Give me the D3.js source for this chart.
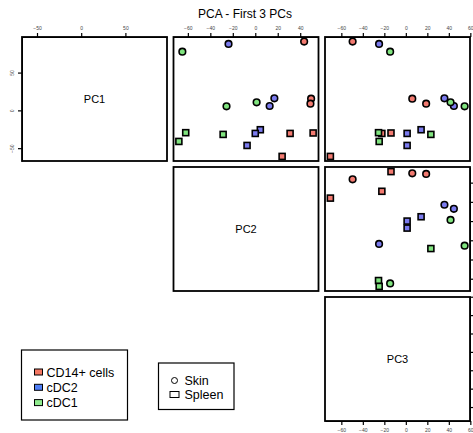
<!DOCTYPE html>
<html>
<head>
<meta charset="utf-8">
<script src="https://cdn.jsdelivr.net/npm/d3@7"></script>
<style>
  body { margin: 0; background: #fff; }
  text { font-family: "Liberation Sans", Arial, sans-serif; }
  .tick text { fill: #444; font-size: 5px; }
</style>
</head>
<body>
<div id="chart"></div>
<script>
// data (18 samples)
const cellType = ['CD14+ cells', 'CD14+ cells', 'CD14+ cells', 'CD14+ cells', 'CD14+ cells', 'CD14+ cells',
  'cDC2', 'cDC2', 'cDC2', 'cDC2', 'cDC2', 'cDC2',
  'cDC1', 'cDC1', 'cDC1', 'cDC1', 'cDC1', 'cDC1'];
const tissue = ['Skin', 'Skin', 'Skin', 'Spleen', 'Spleen', 'Spleen',
  'Skin', 'Skin', 'Skin', 'Spleen', 'Spleen', 'Spleen',
  'Skin', 'Skin', 'Skin', 'Spleen', 'Spleen', 'Spleen'];
const pc1 = [91.0, 15.5, 8.9, -30.5, -29.9, -60.9, 87.9, 15.9, 5.8, -25.6, -30.5, -46.4, 77.7, 10.6, 5.3, -29.5, -41.1, -31.8];
const pc2 = [43.5, 49.7, 49.1, 31.0, 51.5, 23.9, -23.8, 17.0, 12.8, 4.5, 0.0, -7.3, -64.9, 1.2, -25.6, -61.9, -68.0, -28.6];
const pc3 = [-49.5, 6.0, 18.9, -22.3, -13.8, -70.2, -24.9, 35.9, 44.7, 14.2, 1.2, 1.2, -14.6, 41.6, 54.7, -25.4, -24.8, 23.3];

const varNames = ['PC1', 'PC2', 'PC3'];
const ticksPC1 = [-50, 0, 50];
const ticksPC2 = [-60, -40, -20, 0, 20, 40];
const ticksPC3 = [-60, -40, -20, 0, 20, 40, 60];
const typeNames = ['CD14+ cells', 'cDC2', 'cDC1'];
const tissueNames = ['Skin', 'Spleen'];

const pointColor = { 'CD14+ cells': '#f27a70', 'cDC2': '#7b7bee', 'cDC1': '#80e47f' };
const legendColor = { 'CD14+ cells': '#f47762', 'cDC2': '#4f7ef5', 'cDC1': '#90ec8e' };

const vars = [pc1, pc2, pc3];
const varTicks = [ticksPC1, ticksPC2, ticksPC3];
const samples = pc1.map((d, i) => ({ type: cellType[i], tissue: tissue[i], v: [pc1[i], pc2[i], pc3[i]] }));

// layout
const W = 473, H = 433;
const colX = [22, 173.5, 325];
const rowY = [37, 167, 297];
const pw = 145, ph = 124;

const svg = d3.select('#chart').append('svg').attr('width', W).attr('height', H);

// R style domains: data range padded 4% each side
const xs = vars.map((v, j) => {
  const e = d3.extent(v), pad = (e[1] - e[0]) * 0.04;
  return d3.scaleLinear().domain([e[0] - pad, e[1] + pad]).range([colX[j], colX[j] + pw]);
});
const ys = vars.map((v, i) => {
  const e = d3.extent(v), pad = (e[1] - e[0]) * 0.04;
  return d3.scaleLinear().domain([e[0] - pad, e[1] + pad]).range([rowY[i] + ph, rowY[i]]);
});

svg.append('text')
  .attr('x', 245).attr('y', 18)
  .attr('text-anchor', 'middle')
  .style('font-size', '12px')
  .text('PCA - First 3 PCs');

function styleAxis(g) {
  g.select('.domain').attr('stroke', '#000').attr('stroke-width', 1);
  g.selectAll('.tick line').attr('stroke', '#000').attr('stroke-width', 1.2);
}

for (let i = 0; i < 3; i++) {
  for (let j = i; j < 3; j++) {
    const g = svg.append('g');
    if (i == j) {
      g.append('text')
        .attr('x', colX[j] + pw / 2).attr('y', rowY[i] + ph / 2 + 4)
        .attr('text-anchor', 'middle')
        .style('font-size', '11px')
        .text(varNames[i]);
    } else {
      const x = xs[j], y = ys[i];
      g.selectAll('circle')
        .data(samples.filter(d => d.tissue == 'Skin'))
        .enter().append('circle')
        .attr('cx', d => x(d.v[j]))
        .attr('cy', d => y(d.v[i]))
        .attr('r', 3.3)
        .attr('fill', d => pointColor[d.type])
        .attr('stroke', '#000')
        .attr('stroke-width', 1.6);
      g.selectAll('rect')
        .data(samples.filter(d => d.tissue == 'Spleen'))
        .enter().append('rect')
        .attr('x', d => x(d.v[j]) - 3)
        .attr('y', d => y(d.v[i]) - 3)
        .attr('width', 6).attr('height', 6)
        .attr('fill', d => pointColor[d.type])
        .attr('stroke', '#000')
        .attr('stroke-width', 1.6);
    }
    g.append('rect')
      .attr('x', colX[j]).attr('y', rowY[i])
      .attr('width', pw).attr('height', ph)
      .attr('fill', 'none')
      .attr('stroke', '#000')
      .attr('stroke-width', 1.8);
  }
}

// top axes on every column
for (let j = 0; j < 3; j++) {
  svg.append('g')
    .attr('transform', `translate(0, ${rowY[0]})`)
    .call(d3.axisTop(xs[j]).tickValues(varTicks[j]).tickSize(4).tickSizeOuter(0).tickPadding(3))
    .call(styleAxis);
}
// bottom axis under PC3
svg.append('g')
  .attr('transform', `translate(0, ${rowY[2] + ph})`)
  .call(d3.axisBottom(xs[2]).tickValues(ticksPC3).tickSize(4).tickSizeOuter(0).tickPadding(3))
  .call(styleAxis);
// left axis of PC1 row, labels parallel to the axis
svg.append('g')
  .attr('transform', `translate(${colX[0]}, 0)`)
  .call(d3.axisLeft(ys[0]).tickValues(ticksPC1).tickSize(4).tickSizeOuter(0))
  .call(styleAxis)
  .selectAll('.tick text')
  .attr('transform', 'rotate(-90)')
  .attr('x', 0).attr('y', -10)
  .attr('dy', '0.35em')
  .style('text-anchor', 'middle');
// right axes of rows 2 and 3: the labels fall outside the page, only ticks show
for (let i = 1; i < 3; i++) {
  svg.append('g')
    .attr('transform', `translate(${colX[2] + pw}, 0)`)
    .call(d3.axisRight(ys[i]).tickValues(varTicks[i]).tickSize(4).tickSizeOuter(0).tickFormat(''))
    .call(styleAxis);
}

// legend: cell types
const leg1 = svg.append('g');
leg1.append('rect')
  .attr('x', 21.5).attr('y', 350).attr('width', 106).attr('height', 70)
  .attr('fill', '#fff').attr('stroke', '#000').attr('stroke-width', 1.2);
typeNames.forEach((t, k) => {
  const cy = 372 + k * 15.3;
  leg1.append('rect')
    .attr('x', 34.5).attr('y', cy - 3).attr('width', 8).attr('height', 6)
    .attr('fill', legendColor[t]).attr('stroke', '#000').attr('stroke-width', 1);
  leg1.append('text')
    .attr('x', 46.5).attr('y', cy + 4.5)
    .style('font-size', '12.5px')
    .text(t);
});

// legend: tissue
const leg2 = svg.append('g');
leg2.append('rect')
  .attr('x', 158.5).attr('y', 363).attr('width', 75.5).attr('height', 46.5)
  .attr('fill', '#fff').attr('stroke', '#000').attr('stroke-width', 1.2);
tissueNames.forEach((t, k) => {
  const cy = 380.5 + k * 14;
  if (t == 'Skin') {
    leg2.append('circle').attr('cx', 174.5).attr('cy', cy).attr('r', 3)
      .attr('fill', 'none').attr('stroke', '#000').attr('stroke-width', 1);
  } else {
    leg2.append('rect').attr('x', 170).attr('y', cy - 3).attr('width', 9).attr('height', 6)
      .attr('fill', 'none').attr('stroke', '#000').attr('stroke-width', 1);
  }
  leg2.append('text')
    .attr('x', 184.5).attr('y', cy + 4.5)
    .style('font-size', '12.5px')
    .text(t);
});
</script>
</body>
</html>
